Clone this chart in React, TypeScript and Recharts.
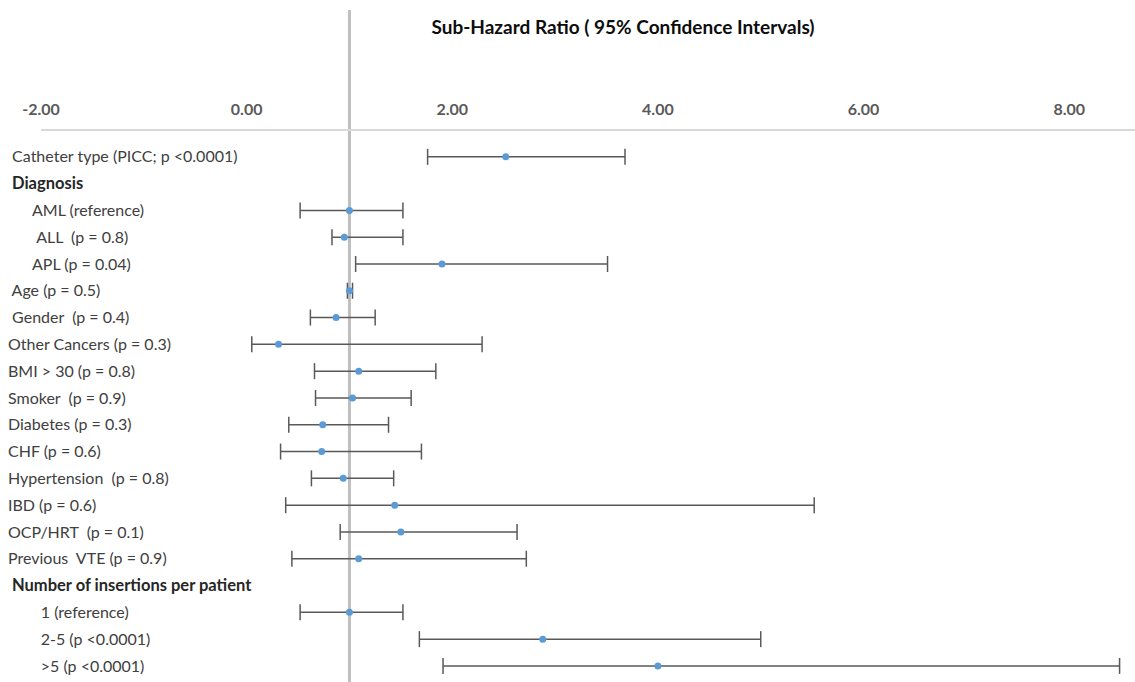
import { ScatterChart, Scatter, XAxis, YAxis, ErrorBar, ReferenceLine } from 'recharts';

// rows top to bottom; leading spaces keep the indentation of the original sheet
const rowLabels = [
  ' Catheter type (PICC; p <0.0001)',
  ' Diagnosis',
  '      AML (reference)',
  '       ALL  (p = 0.8)',
  '      APL (p = 0.04)',
  ' Age (p = 0.5)',
  ' Gender  (p = 0.4)',
  'Other Cancers (p = 0.3)',
  'BMI > 30 (p = 0.8)',
  'Smoker  (p = 0.9)',
  'Diabetes (p = 0.3)',
  'CHF (p = 0.6)',
  'Hypertension  (p = 0.8)',
  'IBD (p = 0.6)',
  'OCP/HRT  (p = 0.1)',
  'Previous  VTE (p = 0.9)',
  ' Number of insertions per patient',
  '        1 (reference)',
  '        2-5 (p <0.0001)',
  '        >5 (p <0.0001)',
];

// header rows have no estimate
const ratio = [2.52, null, 1.0, 0.95, 1.9, 1.0, 0.87, 0.31, 1.09, 1.03, 0.74, 0.73, 0.94, 1.44, 1.5, 1.09, null, 1.0, 2.88, 4.0];
const lower = [1.76, null, 0.52, 0.83, 1.06, 0.98, 0.62, 0.05, 0.66, 0.67, 0.41, 0.33, 0.63, 0.38, 0.91, 0.44, null, 0.52, 1.68, 1.91];
const upper = [3.68, null, 1.52, 1.52, 3.51, 1.03, 1.25, 2.29, 1.84, 1.6, 1.38, 1.7, 1.43, 5.52, 2.63, 2.72, null, 1.52, 5.0, 8.49];

const xTicks = [-2, 0, 2, 4, 6, 8];

const points = ratio
  .map((hr, row) => ({ row, hr, err: hr == null ? null : [hr - (lower[row] as number), (upper[row] as number) - hr] }))
  .filter((d) => d.hr != null);

const FONT = 'Lato, "Open Sans", sans-serif';

const renderRowLabel = (props: any) => {
  const { y, payload } = props;
  const i = payload.value;
  const header = ratio[i] == null;
  return (
    <text
      key={i}
      x={8}
      y={y}
      dy="0.35em"
      fontFamily={FONT}
      fontSize={header ? 16.5 : 16}
      fontWeight={header ? 700 : 400}
      fill={header ? '#262626' : '#404040'}
      style={{ whiteSpace: 'pre' }}
    >
      {rowLabels[i]}
    </text>
  );
};

export default function App() {
  return (
    <div style={{ position: 'absolute', left: 0, top: 0, width: 1135, height: 682, background: '#fff' }}>
      <div
        style={{
          position: 'absolute',
          left: 423,
          top: 15,
          width: 400,
          textAlign: 'center',
          fontFamily: FONT,
          fontWeight: 700,
          fontSize: 19,
          color: '#0d0d0d',
          whiteSpace: 'nowrap',
        }}
      >
        Sub-Hazard Ratio ( 95% Confidence Intervals)
      </div>
      <ScatterChart width={1135} height={682} margin={{ top: 0, right: 0, bottom: 0, left: 40 }}>
        <XAxis
          type="number"
          dataKey="hr"
          orientation="top"
          height={130}
          domain={[-2, 8.64]}
          ticks={xTicks}
          allowDataOverflow
          tickFormatter={(v: number) => v.toFixed(2)}
          axisLine={{ stroke: '#d9d9d9', strokeWidth: 2 }}
          tickLine={false}
          tickSize={0}
          tickMargin={15}
          tick={{ fontFamily: FONT, fontSize: 16, fontWeight: 700, fill: '#595959' }}
        />
        <YAxis
          type="number"
          dataKey="row"
          width={1}
          domain={[-1, 19.6]}
          reversed
          allowDataOverflow
          ticks={rowLabels.map((_, i) => i)}
          interval={0}
          axisLine={false}
          tickLine={false}
          tick={renderRowLabel}
        />
        <ReferenceLine
          segment={[{ x: 1, y: -5.48 }, { x: 1, y: 19.6 }]}
          ifOverflow="visible"
          stroke="#bfbfbf"
          strokeWidth={3}
        />
        <Scatter
          data={points}
          isAnimationActive={false}
          shape={(p: any) => <circle cx={p.cx} cy={p.cy} r={3.5} fill="#5B9BD5" />}
        >
          <ErrorBar dataKey="err" direction="x" width={8} stroke="#595959" strokeWidth={1.5} />
        </Scatter>
      </ScatterChart>
    </div>
  );
}
